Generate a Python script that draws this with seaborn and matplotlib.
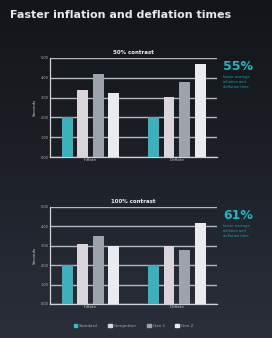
import numpy as np
import pandas as pd
import matplotlib
matplotlib.use('Agg')
import matplotlib.pyplot as plt
import seaborn as sns

# datos (segundos)
grupos = ['Inflate', 'Deflate']
series = ['Standard', 'Competitor', 'Gen 1', 'Gen 2']
valores_50 = [[2.0, 3.4, 4.2, 3.25],
              [2.0, 3.05, 3.8, 4.7]]
valores_100 = [[2.0, 3.1, 3.5, 3.0],
               [2.0, 3.0, 2.8, 4.2]]
titulos = ['50% contrast', '100% contrast']
porcentajes = ['55%', '61%']
yticks = [0, 1, 2, 3, 4, 5]
colores = ['#27c3d3', '#d9d4dc', '#9ca1ad', '#e9ebef']

def armar_df(valores):
    filas = []
    for g, vals in zip(grupos, valores):
        for s, v in zip(series, vals):
            filas.append({'grupo': g, 'serie': s, 'segundos': v})
    return pd.DataFrame(filas)

sns.set_theme(style='dark')
plt.rcParams['font.family'] = ['DejaVu Sans']

fig = plt.figure(figsize=(2.72, 3.38), dpi=100)

# fondo con degradado oscuro
fondo = fig.add_axes([0, 0, 1, 1], zorder=-10)
grad = np.linspace(0, 1, 256).reshape(-1, 1)
cmap = matplotlib.colors.LinearSegmentedColormap.from_list('bg', ['#121519', '#1d2127', '#2b2f3a'])
fondo.imshow(grad, aspect='auto', cmap=cmap, extent=[0, 1, 0, 1])
fondo.axis('off')

fig.text(0.035, 0.955, 'Faster inflation and deflation times', color='#e8e8e8',
         fontsize=8, fontweight='bold', va='center', ha='left')

posiciones = [[0.184, 0.5355, 0.615, 0.293], [0.184, 0.1006, 0.615, 0.287]]
for k, (valores, pos) in enumerate(zip([valores_50, valores_100], posiciones)):
    ax = fig.add_axes(pos)
    ax.set_facecolor('none')
    df = armar_df(valores)
    sns.barplot(data=df, x='grupo', y='segundos', hue='serie', palette=colores,
                width=0.72, gap=0.3, ax=ax, legend=False, zorder=3, linewidth=0)
    ax.set_ylim(0, 5)
    ax.set_yticks(yticks)
    ax.set_yticklabels([f'{t:.2f}' for t in yticks], color='#bbbbbb', fontsize=2.5)
    ax.set_xlim(-0.47, 1.47)
    ax.grid(axis='y', color='#b4b8bf', linewidth=1.0, zorder=0)
    ax.tick_params(axis='x', colors='#cccccc', labelsize=3, pad=1, length=0)
    ax.tick_params(axis='y', pad=1, length=0)
    ax.set_xlabel('')
    ax.set_ylabel('Seconds', color='#cccccc', fontsize=3, labelpad=3)
    ax.set_title(titulos[k], color='#eeeeee', fontsize=4, fontweight='bold', pad=3)
    for lado in ['top', 'right']:
        ax.spines[lado].set_visible(False)
    for lado in ['left', 'bottom']:
        ax.spines[lado].set_color('#cfd2d6')
        ax.spines[lado].set_linewidth(0.9)

    # texto de porcentaje a la derecha
    ytop = pos[1] + pos[3]
    fig.text(0.82, ytop - 0.025, porcentajes[k], color='#1fb9c6', fontsize=9,
             fontweight='bold', ha='left', va='center')
    fig.text(0.82, ytop - 0.07, 'faster average\ninflation and\ndeflation time',
             color='#17a3ad', fontsize=2.6, ha='left', va='center', linespacing=1.3)

# leyenda
handles = [matplotlib.patches.Patch(color=c, label=s) for c, s in zip(colores, series)]
fig.legend(handles=handles, loc='center', bbox_to_anchor=(0.49, 0.035), ncol=4,
           frameon=False, fontsize=3, labelcolor='#aaaaaa', handlelength=0.8,
           handleheight=0.8, columnspacing=2.5, handletextpad=0.5)

fig.savefig('out.png', dpi=100, facecolor=fig.get_facecolor())
